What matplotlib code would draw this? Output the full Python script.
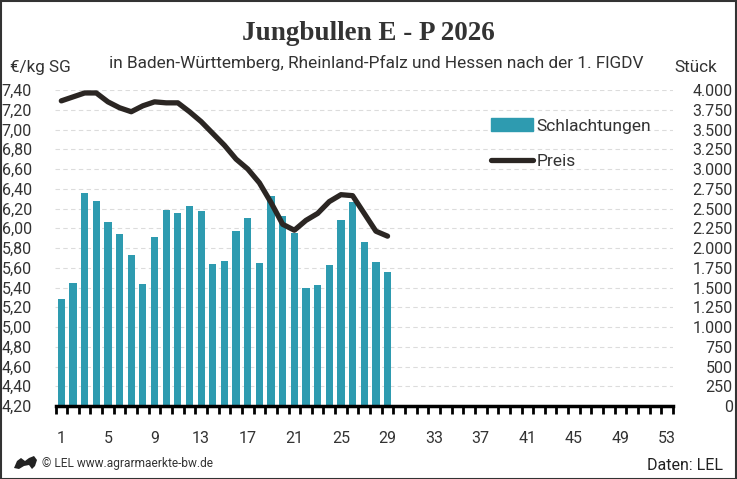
import matplotlib.pyplot as plt
from matplotlib.lines import Line2D
from matplotlib.patches import Patch, Rectangle, Polygon
from matplotlib.transforms import Affine2D
from matplotlib.ticker import FuncFormatter, MultipleLocator, FixedLocator

wochen = list(range(1, 30))
schlachtungen = [1360, 1555, 2690, 2595, 2330, 2175, 1910, 1545, 2140, 2480,
                 2445, 2530, 2470, 1795, 1835, 2215, 2380, 1810, 2660, 2405,
                 2190, 1495, 1530, 1785, 2355, 2580, 2075, 1825, 1695]
preis = [7.29, 7.33, 7.37, 7.37, 7.28, 7.22, 7.18, 7.24, 7.28, 7.27,
         7.27, 7.18, 7.08, 6.96, 6.84, 6.70, 6.60, 6.46, 6.26, 6.04,
         5.98, 6.08, 6.15, 6.27, 6.34, 6.33, 6.15, 5.97, 5.92]
xlabels = list(range(1, 54, 4))

teal = '#2e9bb0'
dunkel = '#2b2623'
grau = '#333333'
plt.rcParams['font.family'] = ['Roboto', 'DejaVu Sans']

fig = plt.figure(figsize=(7.37, 4.79), dpi=100)
ax = fig.add_axes([55.5 / 737, 73 / 479, 617.5 / 737, 316 / 479])
ax2 = ax.twinx()

# bars on the right axis (Stück), line on the left axis (€/kg)
ax2.bar(wochen, schlachtungen, width=0.62, color=teal, zorder=2)
ax2.set_ylim(0, 4000)
ax2.yaxis.set_major_locator(MultipleLocator(250))
ax2.yaxis.set_major_formatter(FuncFormatter(lambda v, p: f'{int(v):,}'.replace(',', '.')))

ax.plot(wochen, preis, color=dunkel, lw=3.8, solid_capstyle='round', solid_joinstyle='round', zorder=5)
ax.set_ylim(4.2, 7.4)
ax.yaxis.set_major_locator(MultipleLocator(0.2))
ax.yaxis.set_major_formatter(FuncFormatter(lambda v, p: f'{v:.2f}'.replace('.', ',')))
ax.set_zorder(ax2.get_zorder() + 1)
ax.patch.set_visible(False)

for y in [4.2 + 0.2 * i for i in range(1, 17)]:
    ax2.axhline((y - 4.2) / 3.2 * 4000, color='#dcdcdc', lw=0.8, ls=(0, (4, 3)), zorder=0)

ax.set_xlim(0.5, 53.5)
ax.xaxis.set_major_locator(FixedLocator([i + 0.5 for i in range(0, 54)]))
ax.xaxis.set_major_formatter(FuncFormatter(lambda v, p: ''))
ax.xaxis.set_minor_locator(FixedLocator(xlabels))
ax.set_xticklabels([str(x) for x in xlabels], minor=True)
ax.tick_params(axis='x', which='major', length=6, width=2, color='black')
ax.tick_params(axis='x', which='minor', length=0, pad=18, labelsize=11.5, labelcolor=grau)
ax.tick_params(axis='y', length=0, pad=17, labelsize=11.5, labelcolor=grau)
ax2.tick_params(axis='y', length=0, pad=43, labelsize=11.5, labelcolor=grau)
for lab in ax.get_yticklabels() + ax2.get_yticklabels():
    lab.set_horizontalalignment('right')

for a in (ax, ax2):
    for s in ['top', 'left', 'right']:
        a.spines[s].set_visible(False)
ax2.spines['bottom'].set_visible(False)
ax.spines['bottom'].set_linewidth(2.5)
ax.spines['bottom'].set_color('black')

handles = [Patch(color=teal, label='Schlachtungen'),
           Line2D([0], [0], color=dunkel, lw=3.8, solid_capstyle='round', label='Preis')]
ax.legend(handles=handles, loc='upper left', bbox_to_anchor=(0.68, 0.96), frameon=False,
          fontsize=12.5, labelcolor=grau, handlelength=2.4, handleheight=0.75,
          handletextpad=0.2, labelspacing=1.15)

fig.text(0.5, 0.93, 'Jungbullen E - P 2026', ha='center', va='center', fontsize=19.5,
         fontweight='bold', family='Liberation Serif', color=grau)
fig.text(0.511, 0.868, 'in Baden-Württemberg, Rheinland-Pfalz und Hessen nach der 1. FlGDV',
         ha='center', va='center', fontsize=12.4, color=grau)
fig.text(10 / 737, 0.86, '€/kg SG', ha='left', va='center', fontsize=12.3, color=grau)
fig.text(717 / 737, 0.86, 'Stück', ha='right', va='center', fontsize=12.3, color=grau)
fig.text(42 / 737, 1 - 464 / 479, '© LEL www.agrarmaerkte-bw.de', ha='left', va='center',
         fontsize=8.6, color=grau)
fig.text(723 / 737, 1 - 465 / 479, 'Daten: LEL', ha='right', va='center', fontsize=11.5, color='#222222')

# rough logo (pixel coords, y from top) and frame
logo = Polygon([(14, 468), (17, 461), (21, 458), (25, 461), (29, 458), (34, 456), (37, 460),
                (35, 466), (32, 469), (29, 465), (24, 466), (19, 469)], closed=True,
               facecolor='#222222', edgecolor='none')
logo.set_transform(Affine2D().scale(1, -1).translate(0, 479))
fig.patches.append(logo)
fig.patches.append(Rectangle((0.001, 0.001), 0.997, 0.996, transform=fig.transFigure,
                             fill=False, edgecolor='#333333', lw=1.5))

fig.savefig('out.png', dpi=100)
